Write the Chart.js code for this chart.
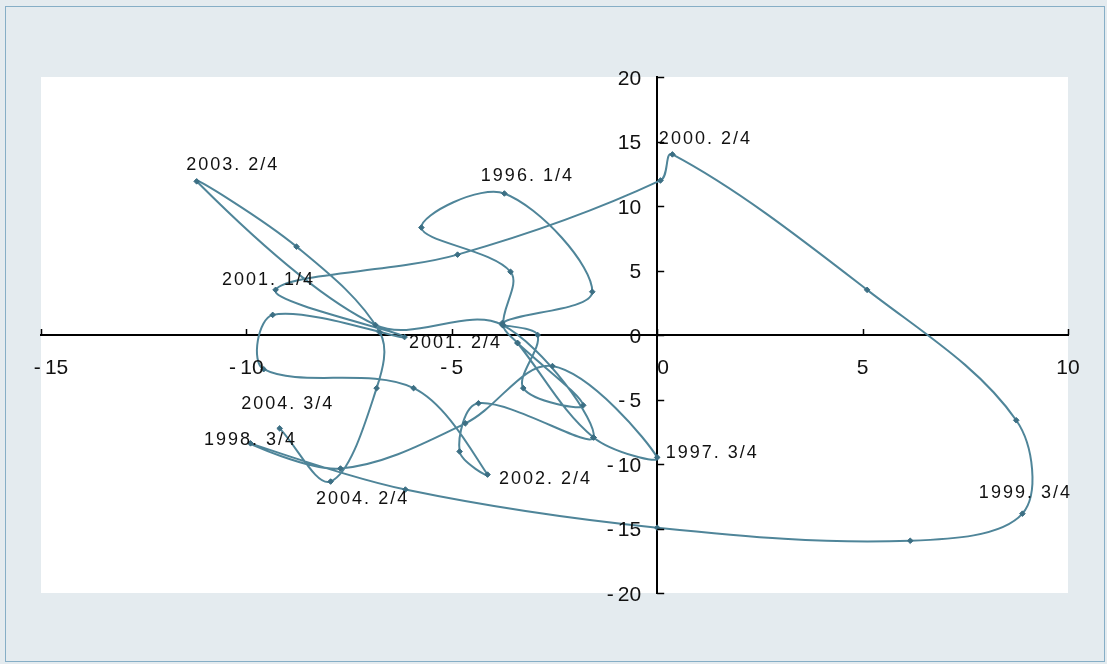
<!DOCTYPE html>
<html>
<head>
<meta charset="utf-8">
<script src="https://cdn.jsdelivr.net/npm/chart.js@4.4.0/dist/chart.umd.min.js"></script>
<style>
  html, body { margin: 0; padding: 0; background: #e4ebef; }
  canvas { display: block; }
</style>
</head>
<body>
<canvas id="clock" width="1107" height="664"></canvas>
<script>
// path, in drawing order; only some points carry a name
const xValues = [
  -3.40, -1.80, -3.26, -2.91, -3.77, -1.58,
  -3.72, -5.74, -3.57, -3.75, -3.40, -1.55,
   0.00, -2.55, -4.67, -7.71,
  -9.90, -6.13,  0.00,  6.16,
   8.89,  8.74,  5.11,
   0.37,  0.08, -4.86,
  -9.29, -6.15, -9.36, -9.58, -5.93,
  -4.13, -4.81, -4.35, -1.55, -3.77, -6.86,
 -11.21, -8.78, -6.75, -6.83,
  -7.95, -9.19
]
const yValues = [
  -0.62, -5.45, -4.12,  0.00,  0.93,  3.35,
  10.97,  8.33,  4.90,  0.75, -0.62, -7.94,
  -9.49, -2.41, -6.85,-10.35,
  -8.40,-11.98,-14.94,-15.95,
 -13.85, -6.61,  3.50,
  14.00, 11.98,  6.23,
   3.50, -0.16,  1.56, -2.65, -4.12,
 -10.82, -9.03, -5.29, -7.94,  0.78,  0.78,
  11.91,  6.85,  0.20, -4.12,
 -11.36, -7.24
]
const pointNames = [
  '', '', '', '', '', '',
  '1996. 1/4', '', '', '', '', '',
  '1997. 3/4', '', '', '',
  '1998. 3/4', '', '', '',
  '1999. 3/4', '', '',
  '2000. 2/4', '', '',
  '2001. 1/4', '2001. 2/4', '', '', '',
  '2002. 2/4', '', '', '', '', '',
  '2003. 2/4', '', '', '',
  '2004. 2/4', '2004. 3/4'
]
const xTicks = [-15, -10, -5, 0, 5, 10]
const yTicks = [-20, -15, -10, -5, 0, 5, 10, 15, 20]

// where each name sits relative to its point (px)
const labelOffset = {
  '1996. 1/4': [23, -17], '1997. 3/4': [55, -4], '1998. 3/4': [0, -3],
  '1999. 3/4': [3, -21], '2000. 2/4': [33, -15], '2001. 1/4': [-7, -10],
  '2001. 2/4': [51, 6], '2002. 2/4': [58, 4], '2003. 2/4': [36, -16],
  '2004. 2/4': [32, 17], '2004. 3/4': [8, -24]
}
const tickFont = '21px "Liberation Sans Narrow", "Liberation Sans", Arial, sans-serif'
const tickText = v => v < 0 ? '-\u2009' + Math.abs(v) : String(v)

const points = xValues.map((x, i) => ({x: x, y: yValues[i]}))

const frame = {
  id: 'frame',
  beforeDraw(chart) {
    const c = chart.ctx, a = chart.chartArea
    c.save()
    c.fillStyle = '#e4ebef'
    c.fillRect(0, 0, chart.width, chart.height)
    c.strokeStyle = '#86aec6'
    c.lineWidth = 1
    c.strokeRect(5.5, 6.5, chart.width - 8, chart.height - 9)
    c.fillStyle = '#ffffff'
    c.fillRect(a.left, a.top, a.right - a.left, a.bottom - a.top)
    c.restore()
  }
}

// tick marks on the inner side and the tick numbers
const axisMarks = {
  id: 'axisMarks',
  afterDraw(chart) {
    const c = chart.ctx, sx = chart.scales.x, sy = chart.scales.y
    const x0 = sx.getPixelForValue(0), y0 = sy.getPixelForValue(0)
    c.save()
    c.strokeStyle = '#000'
    c.lineWidth = 1.5
    c.beginPath()
    xTicks.forEach(v => {
      const px = Math.round(sx.getPixelForValue(v)) + 0.5
      c.moveTo(px, y0); c.lineTo(px, y0 - 6)
    })
    yTicks.forEach(v => {
      const py = Math.round(sy.getPixelForValue(v)) + 0.5
      c.moveTo(x0, py); c.lineTo(x0 + 7, py)
    })
    c.stroke()
    c.fillStyle = '#111'
    c.font = tickFont
    c.textBaseline = 'middle'
    c.textAlign = 'center'
    xTicks.forEach(v => {
      let px = sx.getPixelForValue(v)
      if (v === -15) px += 10
      if (v === 0) px += 6
      c.fillText(tickText(v), px, y0 + 33)
    })
    c.textAlign = 'right'
    yTicks.forEach(v => {
      c.fillText(tickText(v), x0 - 16, sy.getPixelForValue(v) + 2)
    })
    c.restore()
  }
}

const pointLabels = {
  id: 'pointLabels',
  afterDatasetsDraw(chart) {
    const c = chart.ctx, meta = chart.getDatasetMeta(0)
    c.save()
    c.font = '18px "Liberation Sans Narrow", "Liberation Sans", Arial, sans-serif'
    c.letterSpacing = '2px'
    c.fillStyle = '#111'
    c.textAlign = 'center'
    c.textBaseline = 'middle'
    pointNames.forEach((q, i) => {
      if (!q) return
      const el = meta.data[i]
      const off = labelOffset[q]
      c.fillText(q, el.x + off[0], el.y + off[1])
    })
    c.restore()
  }
}

const ctx = document.getElementById('clock').getContext('2d')
const myChart = new Chart(ctx, {
  type: 'scatter',
  data: {
    datasets: [{
      label: 'cycle',
      data: points,
      showLine: true,
      borderColor: '#4f8599',
      borderWidth: 2,
      tension: 0.35,
      pointStyle: 'rectRot',
      pointRadius: 2.8,
      pointBackgroundColor: '#3c6f84',
      pointBorderColor: '#3c6f84',
      pointBorderWidth: 1
    }]
  },
  options: {
    responsive: false,
    animation: false,
    layout: {padding: {left: 41, right: 39, top: 77, bottom: 71}},
    plugins: {
      legend: {display: false},
      tooltip: {enabled: false}
    },
    scales: {
      x: {
        type: 'linear',
        min: -15, max: 10,
        position: {y: 0},
        afterBuildTicks: axis => { axis.ticks = xTicks.map(v => ({value: v})) },
        grid: {drawOnChartArea: false, drawTicks: false},
        border: {color: '#000', width: 2},
        ticks: {display: false}
      },
      y: {
        type: 'linear',
        min: -20, max: 20,
        position: {x: 0},
        afterBuildTicks: axis => { axis.ticks = yTicks.map(v => ({value: v})) },
        grid: {drawOnChartArea: false, drawTicks: false},
        border: {color: '#000', width: 2},
        ticks: {display: false}
      }
    }
  },
  plugins: [frame, axisMarks, pointLabels]
})
</script>
</body>
</html>
